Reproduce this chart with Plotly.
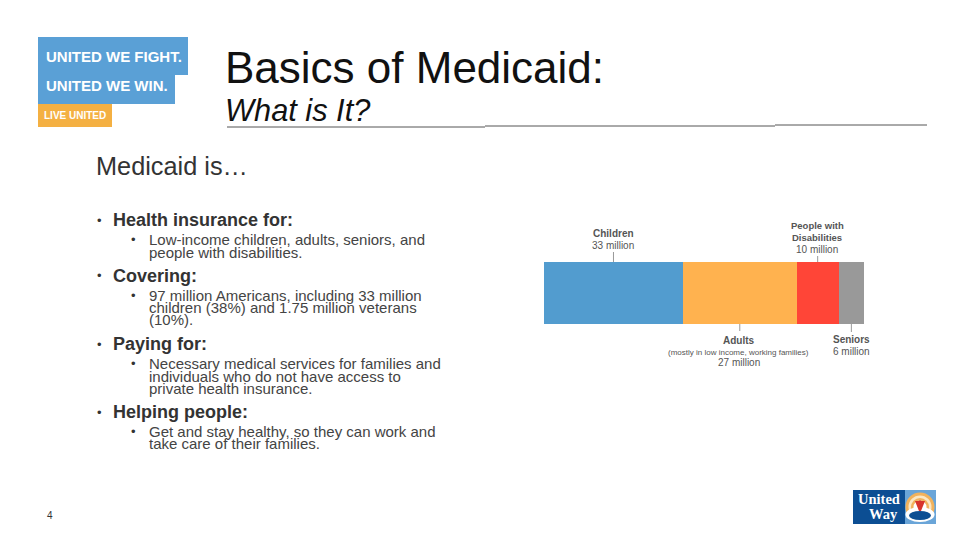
import numpy as np
import plotly.graph_objects as go

W, H = 960, 540
PAGE_MARGIN = 8  # browser body margin shifts the plot

# chart data
groups = ['Children', 'Adults', 'People with Disabilities', 'Seniors']
millions = [33, 27, 10, 6]
colors = ['#529CCF', '#FFB24F', '#FF4537', '#999999']

# slide text, (text, left px, centre y px)
bullets = [('Health insurance for:', 112, 220), ('Covering:', 112, 276),
           ('Paying for:', 112, 344), ('Helping people:', 112, 412)]
dots = [(96, 220), (96, 276), (96, 344), (96, 412), (130, 240), (130, 295), (130, 363), (130, 431)]
sub_lines = [('Low-income children, adults, seniors, and', 148, 240),
             ('people with disabilities.', 148, 252),
             ('97 million Americans, including 33 million', 148, 295),
             ('children (38%) and 1.75 million veterans', 148, 307),
             ('(10%).', 148, 320),
             ('Necessary medical services for families and', 148, 363),
             ('individuals who do not have access to', 148, 376),
             ('private health insurance.', 148, 388),
             ('Get and stay healthy, so they can work and', 148, 431),
             ('take care of their families.', 148, 443)]


def px(x):
    return (x - PAGE_MARGIN) / W


def py(y):
    return 1 - (y - PAGE_MARGIN) / H


fig = go.Figure()
for name, val, col in zip(groups, millions, colors):
    fig.add_trace(go.Bar(y=['Medicaid'], x=[val], name=name, orientation='h',
                         marker=dict(color=col, line=dict(width=0))))

fig.update_layout(
    width=W, height=H, barmode='stack', bargap=0, showlegend=False,
    margin=dict(l=0, r=0, t=0, b=0), paper_bgcolor='white', plot_bgcolor='white',
    xaxis=dict(domain=[px(544), px(864)], range=[0, sum(millions)], visible=False),
    yaxis=dict(domain=[py(324), py(262)], visible=False),
)


def text(s, x, y, size, color='#222222', font='Liberation Sans', anchor='left', **kw):
    fig.add_annotation(text=s, x=px(x), y=py(y), xref='paper', yref='paper', showarrow=False,
                       xanchor=anchor, yanchor='middle', borderpad=0,
                       font=dict(family=font, size=size, color=color), **kw)


def rect(x0, y0, x1, y1, color):
    fig.add_shape(type='rect', xref='paper', yref='paper', x0=px(x0), x1=px(x1),
                  y0=py(y0), y1=py(y1), fillcolor=color, line=dict(width=0))


def ellipse(x0, y0, x1, y1, color):
    fig.add_shape(type='circle', xref='paper', yref='paper', x0=px(x0), x1=px(x1),
                  y0=py(y1), y1=py(y0), fillcolor=color, line=dict(width=0))


def circle(cx, cy, r, color):
    ellipse(cx - r, cy - r, cx + r, cy + r, color)


# title block
text('Basics of Medicaid:', 224, 67, 44, color='#111111')
text('<i>What is It?</i>', 224, 110, 26.5 * 144 / 124, color='#111111')
for x0, x1, y in [(227, 485, 127), (485, 775, 126), (775, 927, 125)]:
    fig.add_shape(type='line', xref='paper', yref='paper', x0=px(x0), x1=px(x1), y0=py(y), y1=py(y),
                  line=dict(color='#555555', width=1))

# body text
text('Medicaid is…', 95, 166, 25.3, color='#333333')
for s, x, y in bullets:
    text('<b>%s</b>' % s, x, y, 18, color='#333333')
for x, y in dots:
    text('•', x, y, 13, color='#333333')
for s, x, y in sub_lines:
    text(s, x, y, 15, color='#444444')
text('4', 46, 515, 10, color='#333333')

# bar labels with leader lines at segment midpoints
edges = np.cumsum([0] + millions)
mids = (edges[:-1] + edges[1:]) / 2
for m, y0, y1 in [(mids[0], 252, 262), (mids[1], 324, 331), (mids[2], 256, 262), (mids[3], 324, 332)]:
    fig.add_shape(type='line', xref='x', yref='paper', x0=m, x1=m, y0=py(y0), y1=py(y1),
                  line=dict(color='#999999', width=1))

gray = '#555555'
text('<b>Children</b>', 613, 233, 10, gray, anchor='center')
text('33 million', 613, 245, 10, gray, anchor='center')
text('<b>People with</b>', 817, 225, 9.5, gray, anchor='center')
text('<b>Disabilities</b>', 817, 237, 9.5, gray, anchor='center')
text('10 million', 817, 249, 10, gray, anchor='center')
text('<b>Adults</b>', 739, 340, 10, gray, anchor='center')
text('(mostly in low income, working families)', 738, 352, 8, gray, anchor='center')
text('27 million', 739, 362, 10, gray, anchor='center')
text('<b>Seniors</b>', 851, 339, 10, gray, anchor='center')
text('6 million', 851, 351, 10, gray, anchor='center')

# campaign logo
rect(38, 37, 188, 75, '#5AA0D6')
rect(38, 75, 175, 104, '#5AA0D6')
rect(38, 104, 112, 127, '#F4B042')
text('<b>UNITED WE FIGHT.</b>', 45, 56, 15, 'white')
text('<b>UNITED WE WIN.</b>', 45, 85, 15, 'white')
text('<b>LIVE UNITED</b>', 43, 116, 10, 'white')

# United Way logo
rect(853, 490, 905, 524, '#0C4E93')
rect(905, 490, 936, 524, '#6AA5D8')
text('<b>United</b>', 901, 499, 14.5, 'white', 'Liberation Serif', anchor='right')
text('<b>Way</b>', 899, 514, 14.5, 'white', 'Liberation Serif', anchor='right')
circle(920, 507, 14.5, '#F2B25C')
circle(920, 507, 11.5, '#FBE7C4')
circle(920, 507, 9, '#F2B25C')
circle(920, 507, 6.5, 'white')
ellipse(905.5, 507, 934.5, 522, 'white')
ellipse(909, 511, 931, 520, '#0C4E93')
circle(920, 502, 1.8, '#D8342C')
fig.add_shape(type='path', xref='paper', yref='paper', fillcolor='#D8342C', line=dict(width=0),
              path='M %f %f L %f %f L %f %f L %f %f Z' % (px(915), py(501), px(919), py(511),
                                                           px(921), py(511), px(925), py(501)))

fig.write_html("out.html")
